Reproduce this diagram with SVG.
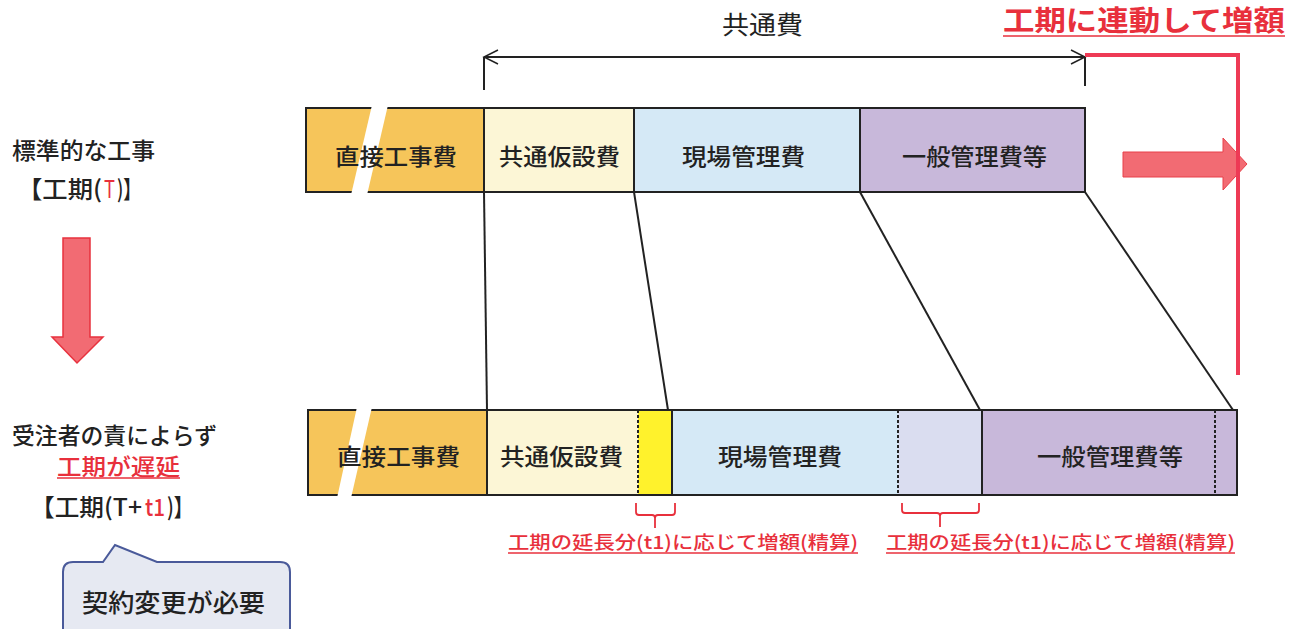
<svg xmlns="http://www.w3.org/2000/svg" width="1293" height="629" viewBox="0 0 1293 629">
<style>
.t{font-family:"Noto Sans CJK JP","Noto Sans",sans-serif;fill:#222}
.b{font-size:23px;font-weight:500}
.r{fill:#E8303C}
.seg{stroke:#222;stroke-width:2}
.dash{stroke:#222;stroke-width:2;stroke-dasharray:3 2}
.conn{stroke:#222;stroke-width:2;fill:none}
.ul{stroke:#E8303C;stroke-width:1.5}
.brk{stroke:#E8303C;stroke-width:1.8;fill:none}
</style>
<defs>
<marker id="chev" markerUnits="userSpaceOnUse" markerWidth="18" markerHeight="18" viewBox="0 0 18 18" refX="16" refY="9" orient="auto-start-reverse">
<path d="M2,2 L16,9 L2,16" fill="none" stroke="#222" stroke-width="1.5"/>
</marker>
</defs>
<rect width="1293" height="629" fill="#fff"/>

<g id="title-linked">
<text class="t r" x="1003" y="31" font-size="28" font-weight="bold" textLength="282" lengthAdjust="spacingAndGlyphs">工期に連動して増額</text>
<line class="ul" x1="1003" y1="36" x2="1285" y2="36" stroke-width="2"/>
</g>

<g id="common-cost-label">
<text class="t" x="722" y="34" font-size="25" textLength="81" lengthAdjust="spacingAndGlyphs">共通費</text>
</g>

<g id="left-standard">
<text class="t" x="12" y="159" font-size="23" font-weight="500" textLength="143" lengthAdjust="spacingAndGlyphs">標準的な工事</text>
<text class="t" x="17" y="198" font-size="24" font-weight="500" textLength="85" lengthAdjust="spacingAndGlyphs">【工期(</text>
<text class="t r" x="104" y="198" font-size="24" textLength="11" lengthAdjust="spacingAndGlyphs">T</text>
<text class="t" x="117" y="198" font-size="24" font-weight="500" textLength="24" lengthAdjust="spacingAndGlyphs">)】</text>
</g>

<g id="down-arrow">
<polygon points="63,238 90,238 90,337 103,337 77,363 52,337 63,337" fill="#F26B73" stroke="#E8323E" stroke-width="1.5"/>
</g>

<g id="left-delay">
<text class="t" x="12" y="444" font-size="23" font-weight="500" textLength="205" lengthAdjust="spacingAndGlyphs">受注者の責によらず</text>
<text class="t r" x="57" y="475" font-size="23" font-weight="500" textLength="123" lengthAdjust="spacingAndGlyphs">工期が遅延</text>
<line class="ul" x1="57" y1="478" x2="180" y2="478"/>
<text class="t" x="30" y="516" font-size="24" font-weight="500" textLength="112" lengthAdjust="spacingAndGlyphs">【工期(T+ </text>
<text class="t r" x="145" y="516" font-size="24" font-weight="500" textLength="20" lengthAdjust="spacingAndGlyphs">t1</text>
<text class="t" x="167" y="516" font-size="24" font-weight="500" textLength="26" lengthAdjust="spacingAndGlyphs">)】</text>
</g>

<g id="callout">
<path d="M63,572 Q63,562 73,562 L103,562 L115,545 L157,562 L280,562 Q290,562 290,572 L290,640 L63,640 Z" fill="#E6E9F2" stroke="#4A5A9A" stroke-width="2"/>
<text class="t" x="82" y="612" font-size="25" font-weight="500" textLength="183" lengthAdjust="spacingAndGlyphs">契約変更が必要</text>
</g>

<g id="top-bar">
<rect class="seg" x="306" y="108" width="178" height="84" fill="#F6C55A"/>
<rect class="seg" x="484" y="108" width="150" height="84" fill="#FCF6D6"/>
<rect class="seg" x="634" y="108" width="226" height="84" fill="#D5E9F6"/>
<rect class="seg" x="860" y="108" width="225" height="84" fill="#C8B8DA"/>
<polygon points="372,105 388,105 367,195 351,195" fill="#fff"/>
<text class="t b" x="335" y="165" textLength="122" lengthAdjust="spacingAndGlyphs">直接工事費</text>
<text class="t b" x="499" y="165" textLength="121" lengthAdjust="spacingAndGlyphs">共通仮設費</text>
<text class="t b" x="682" y="165" textLength="123" lengthAdjust="spacingAndGlyphs">現場管理費</text>
<text class="t b" x="902" y="165" textLength="145" lengthAdjust="spacingAndGlyphs">一般管理費等</text>
</g>

<g id="bottom-bar">
<rect x="308" y="410" width="179" height="85" fill="#F6C55A"/>
<rect x="487" y="410" width="151" height="85" fill="#FCF6D6"/>
<rect x="638" y="410" width="34" height="85" fill="#FFF22C"/>
<rect x="672" y="410" width="226" height="85" fill="#D5E9F6"/>
<rect x="898" y="410" width="84" height="85" fill="#DADDF0"/>
<rect x="982" y="410" width="255" height="85" fill="#C8B8DA"/>
<rect x="308" y="410" width="929" height="85" fill="none" stroke="#222" stroke-width="2"/>
<line class="seg" x1="487" y1="410" x2="487" y2="495"/>
<line class="dash" x1="638" y1="410" x2="638" y2="495"/>
<line class="seg" x1="672" y1="410" x2="672" y2="495"/>
<line class="dash" x1="898" y1="410" x2="898" y2="495"/>
<line class="seg" x1="982" y1="410" x2="982" y2="495"/>
<line class="dash" x1="1215" y1="410" x2="1215" y2="495"/>
<polygon points="357,407 372,407 351,498 337,498" fill="#fff"/>
<text class="t b" x="337" y="465" textLength="123" lengthAdjust="spacingAndGlyphs">直接工事費</text>
<text class="t b" x="500" y="465" textLength="123" lengthAdjust="spacingAndGlyphs">共通仮設費</text>
<text class="t b" x="718" y="465" textLength="124" lengthAdjust="spacingAndGlyphs">現場管理費</text>
<text class="t b" x="1037" y="465" textLength="146" lengthAdjust="spacingAndGlyphs">一般管理費等</text>
</g>

<g id="bracket-1">
<path class="brk" d="M636,503 L636,512 Q636,515 639,515 L652,515 Q655,515 655,518 L655,528 M655,518 Q655,515 658,515 L672,515 Q675,515 675,512 L675,503"/>
<text class="t r" x="508" y="549" font-size="18" font-weight="500" textLength="350" lengthAdjust="spacingAndGlyphs">工期の延長分(t1)に応じて増額(精算)</text>
<line class="ul" x1="508" y1="553" x2="858" y2="553"/>
</g>

<g id="bracket-2">
<path class="brk" d="M902,503 L902,510 Q902,513 905,513 L937,513 Q940,513 940,516 L940,527 M940,516 Q940,513 943,513 L976,513 Q979,513 979,510 L979,503"/>
<text class="t r" x="886" y="549" font-size="18" font-weight="500" textLength="349" lengthAdjust="spacingAndGlyphs">工期の延長分(t1)に応じて増額(精算)</text>
<line class="ul" x1="886" y1="553" x2="1235" y2="553"/>
</g>

<g id="right-arrow">
<polygon points="1123,152 1223,152 1223,138 1247,164 1223,190 1223,177 1123,177" fill="#F26B73" stroke="#E8404A" stroke-width="1"/>
</g>

<g id="connectors">
<line class="conn" x1="484" y1="57" x2="1085" y2="57" stroke-width="1.5" marker-start="url(#chev)" marker-end="url(#chev)"/>
<line class="conn" x1="484" y1="57" x2="484" y2="90" stroke-width="1.8"/>
<line class="conn" x1="1085" y1="57" x2="1085" y2="86" stroke-width="1.8"/>
<polyline points="1085,55 1238,55 1238,375" fill="none" stroke="#EE3A55" stroke-width="4"/>
<line class="conn" x1="484" y1="192" x2="487" y2="410"/>
<line class="conn" x1="634" y1="192" x2="668" y2="410"/>
<line class="conn" x1="860" y1="192" x2="980" y2="410"/>
<line class="conn" x1="1085" y1="192" x2="1233" y2="410"/>
</g>
</svg>
